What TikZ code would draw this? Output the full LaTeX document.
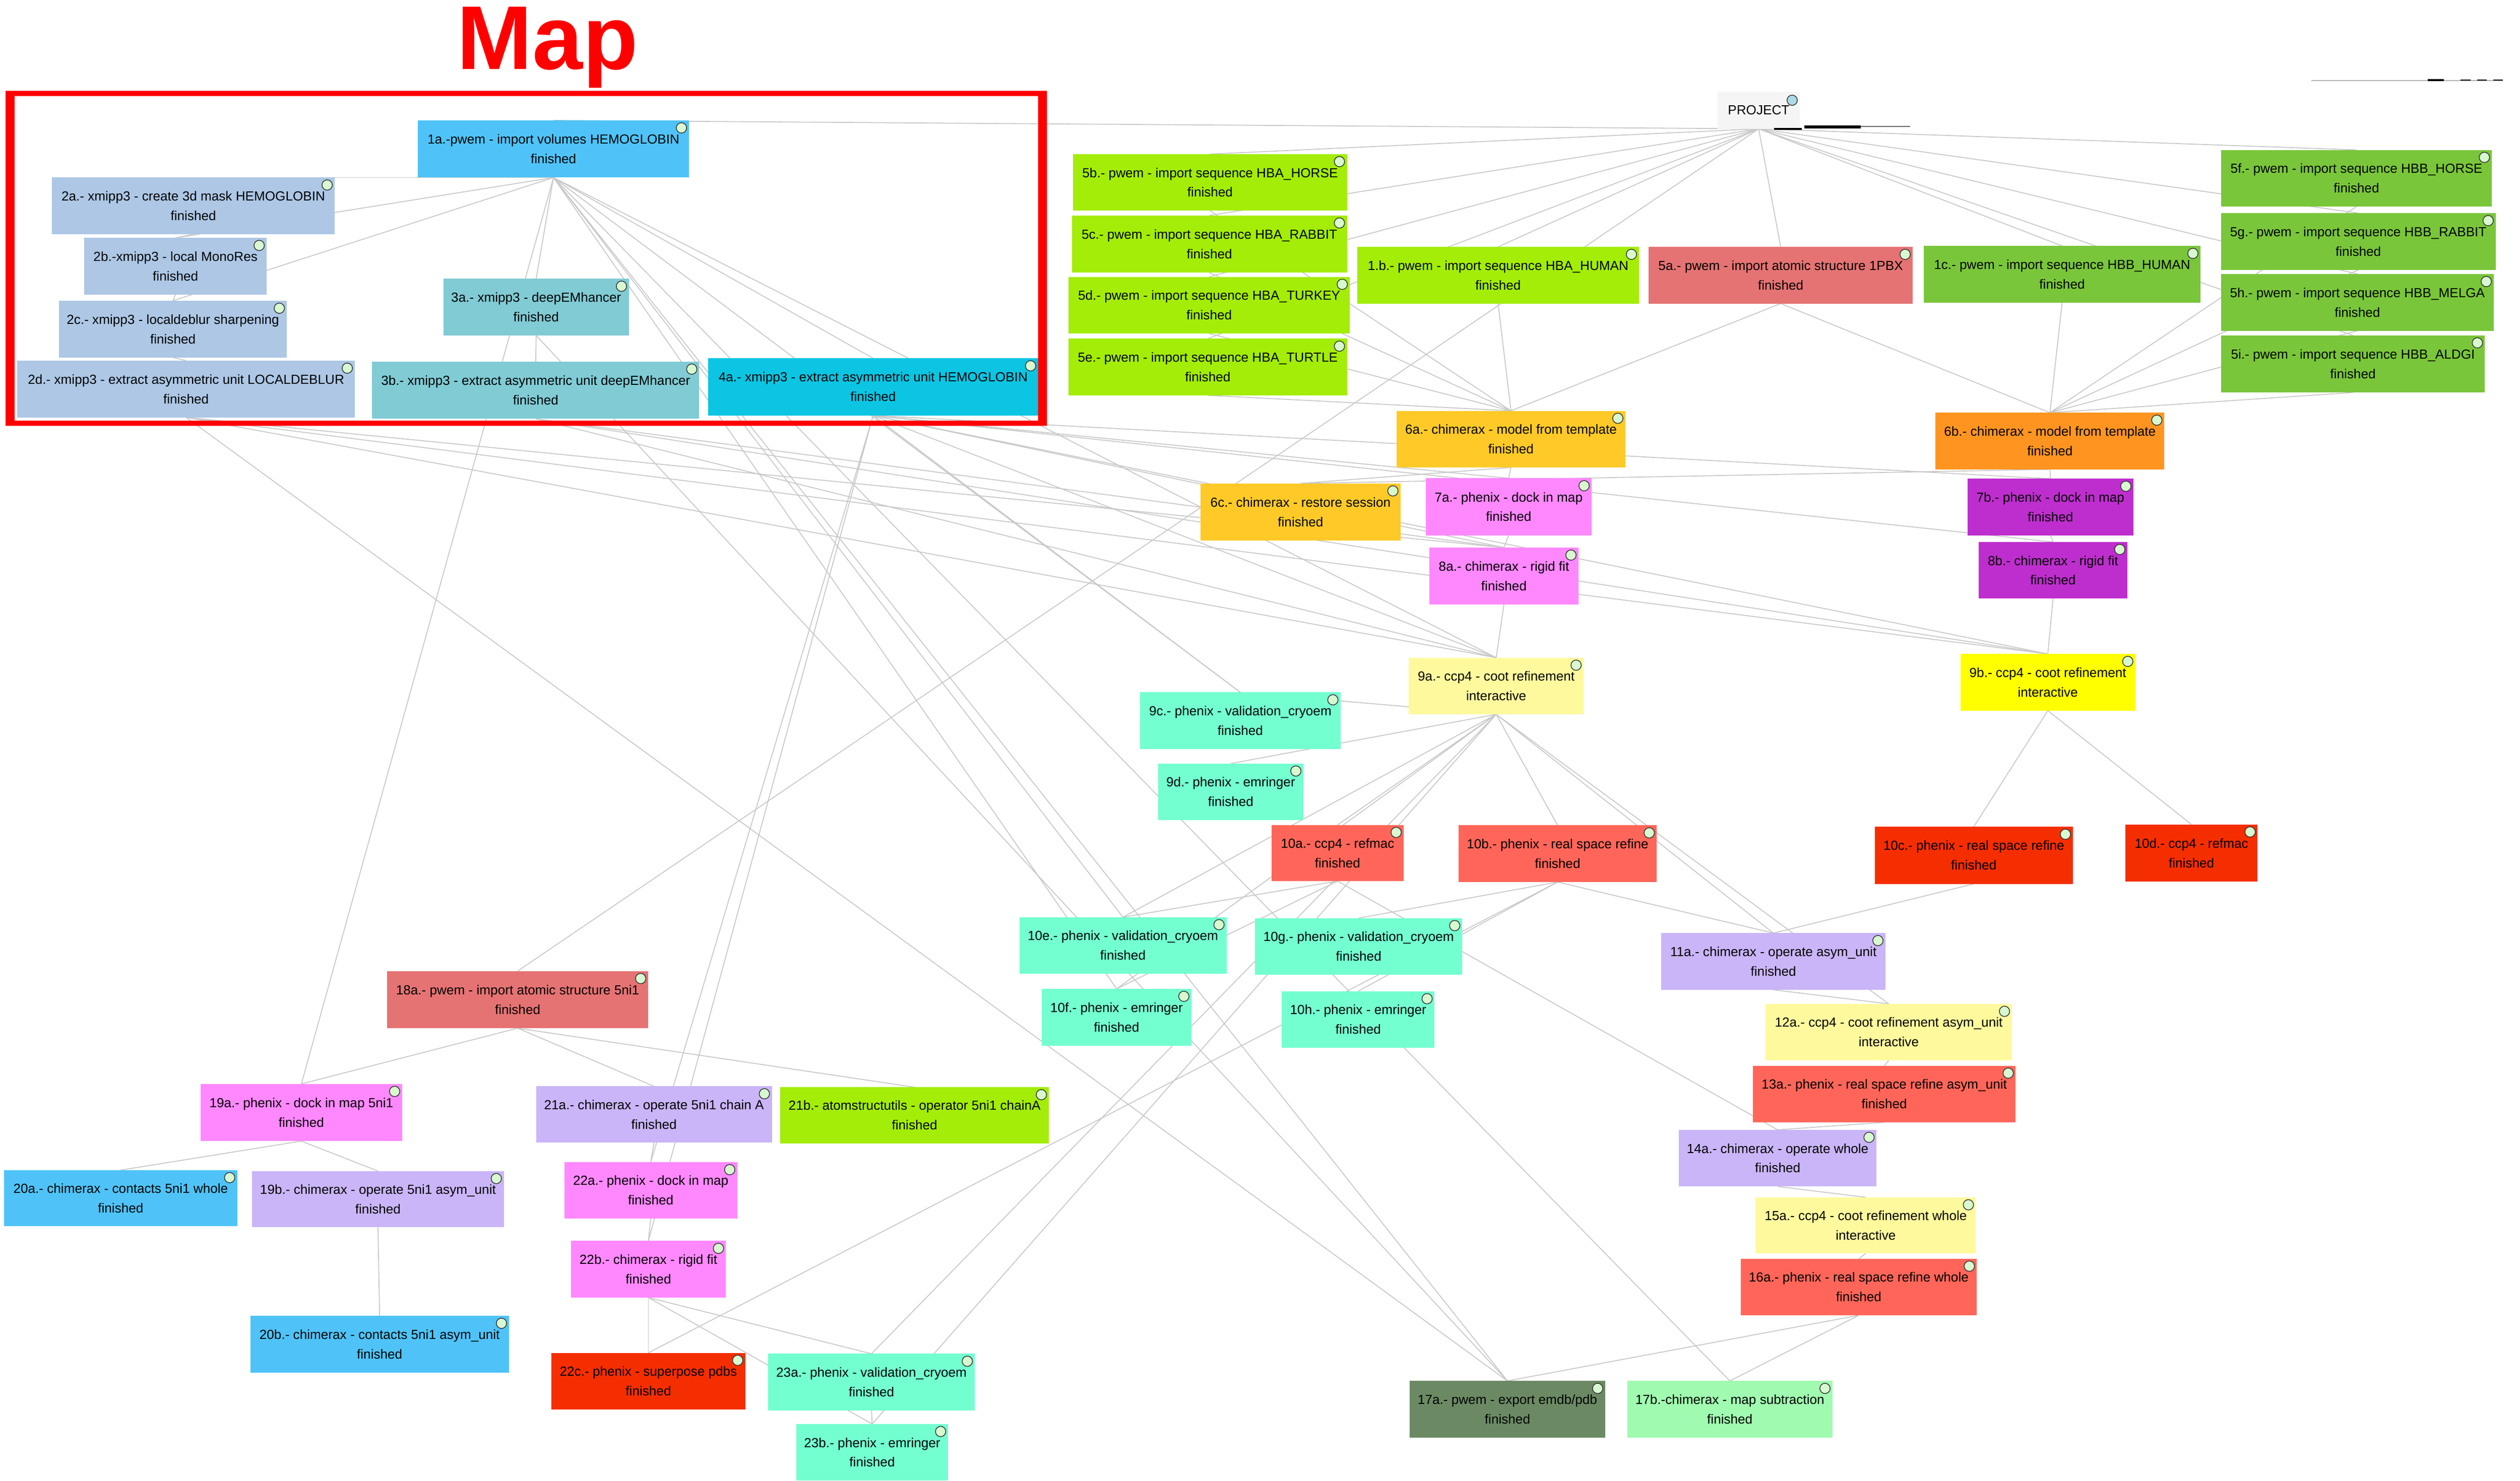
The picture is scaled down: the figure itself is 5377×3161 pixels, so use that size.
\documentclass[tikz,border=0pt]{standalone}
\usepackage{fontspec}
\setmainfont{Liberation Sans}
\usetikzlibrary{backgrounds,calc}
\definecolor{cSky}{HTML}{4FC3F7}
\definecolor{cSteel}{HTML}{ADC7E5}
\definecolor{cTeal}{HTML}{80CBD4}
\definecolor{cCyan}{HTML}{0BC5E3}
\definecolor{cLime}{HTML}{A3ED08}
\definecolor{cRose}{HTML}{E57373}
\definecolor{cGreen}{HTML}{7AC63A}
\definecolor{cGold}{HTML}{FFCA28}
\definecolor{cOrange}{HTML}{FF9520}
\definecolor{cPink}{HTML}{FF88FF}
\definecolor{cPurple}{HTML}{BE2ECE}
\definecolor{cPaleY}{HTML}{FFF99D}
\definecolor{cYellow}{HTML}{FFFF00}
\definecolor{cAqua}{HTML}{73FFD0}
\definecolor{cSalmon}{HTML}{FF6659}
\definecolor{cRed}{HTML}{F52E00}
\definecolor{cLav}{HTML}{C9B5F7}
\definecolor{cOlive}{HTML}{6B8A64}
\definecolor{cMint}{HTML}{A0FAB0}
\definecolor{cProj}{HTML}{F5F5F5}
\definecolor{cDot}{HTML}{D8F8D0}
\definecolor{cDotB}{HTML}{ADD8E6}
\definecolor{cEdge}{HTML}{C8C8C8}
\definecolor{cFrame}{HTML}{FF0000}
\tikzset{
  wfbox/.style={rectangle, inner sep=0pt, outer sep=0pt, align=center,
    font=\fontsize{8pt}{11.9pt}\selectfont, text=black},
  wfedge/.style={draw=cEdge, line width=0.55pt},
  statusdot/.style={fill=cDot, draw=black!80, line width=0.45pt},
  titletext/.style={font=\fontsize{55pt}{55pt}\selectfont\bfseries, text=cFrame, inner sep=0pt, anchor=base}
}
\newcommand\wf[8]{%
  \node[wfbox, fill=#6, minimum width={(#4-#2)*0.1mm}, minimum height={(#5-#3)*0.1mm}]
    (#1) at ({(#2+#4)/2},{(#3+#5)/2}) {#7\\#8};
  \path[statusdot] ($(#1.north east)+(-16,16)$) circle[radius=1.1mm];
}
\begin{document}
\begin{tikzpicture}[x=0.1mm, y=-0.1mm]
\useasboundingbox (0,0) rectangle (5377,3161);

% title
\node[titletext] (title) at (1168,148) {Map};

% project root
\node[wfbox, fill=cProj, minimum width=17.5mm, minimum height=7.9mm] (proj) at (3752.5,235.5) {PROJECT};
\path[statusdot, fill=cDotB] ($(proj.north east)+(-16,18)$) circle[radius=1.1mm];

% map branch
\wf{n1a}{892}{257}{1470}{379}{cSky}{1a.-pwem - import volumes HEMOGLOBIN}{finished}
\wf{n2a}{111}{379}{714}{500}{cSteel}{2a.- xmipp3 - create 3d mask HEMOGLOBIN}{finished}
\wf{n2b}{180}{508}{569}{629}{cSteel}{2b.-xmipp3 - local MonoRes}{finished}
\wf{n2c}{126}{642}{612}{763}{cSteel}{2c.- xmipp3 - localdeblur sharpening}{finished}
\wf{n2d}{37}{770}{757}{891}{cSteel}{2d.- xmipp3 - extract asymmetric unit LOCALDEBLUR}{finished}
\wf{n3a}{946}{595}{1342}{716}{cTeal}{3a.- xmipp3 - deepEMhancer}{finished}
\wf{n3b}{794}{772}{1492}{894}{cTeal}{3b.- xmipp3 - extract asymmetric unit deepEMhancer}{finished}
\wf{n4a}{1511}{765}{2215}{887}{cCyan}{4a.- xmipp3 - extract asymmetric unit HEMOGLOBIN}{finished}

% sequences and structures
\wf{n5b}{2290}{329}{2874}{450}{cLime}{5b.- pwem - import sequence HBA\_HORSE}{finished}
\wf{n5c}{2287}{460}{2874}{582}{cLime}{5c.- pwem - import sequence HBA\_RABBIT}{finished}
\wf{n5d}{2280}{591}{2880}{712}{cLime}{5d.- pwem - import sequence HBA\_TURKEY}{finished}
\wf{n5e}{2280}{723}{2874}{844}{cLime}{5e.- pwem - import sequence HBA\_TURTLE}{finished}
\wf{n1b}{2896}{527}{3497}{648}{cLime}{1.b.- pwem - import sequence HBA\_HUMAN}{finished}
\wf{n5a}{3518}{527}{4081}{648}{cRose}{5a.- pwem - import atomic structure 1PBX}{finished}
\wf{n1c}{4105}{525}{4695}{646}{cGreen}{1c.- pwem - import sequence HBB\_HUMAN}{finished}
\wf{n5f}{4739}{320}{5317}{441}{cGreen}{5f.- pwem - import sequence HBB\_HORSE}{finished}
\wf{n5g}{4739}{455}{5325}{576}{cGreen}{5g.- pwem - import sequence HBB\_RABBIT}{finished}
\wf{n5h}{4739}{585}{5321}{706}{cGreen}{5h.- pwem - import sequence HBB\_MELGA}{finished}
\wf{n5i}{4739}{716}{5302}{838}{cGreen}{5i.- pwem - import sequence HBB\_ALDGI}{finished}

% modelling
\wf{n6a}{2980}{877}{3468}{998}{cGold}{6a.- chimerax - model from template}{finished}
\wf{n6b}{4130}{881}{4618}{1002}{cOrange}{6b.- chimerax - model from template}{finished}
\wf{n6c}{2562}{1032}{2988}{1154}{cGold}{6c.- chimerax - restore session}{finished}
\wf{n7a}{3042}{1021}{3396}{1143}{cPink}{7a.- phenix - dock in map}{finished}
\wf{n8a}{3050}{1169}{3368}{1290}{cPink}{8a.- chimerax - rigid fit}{finished}
\wf{n7b}{4198}{1022}{4552}{1143}{cPurple}{7b.- phenix - dock in map}{finished}
\wf{n8b}{4222}{1157}{4539}{1278}{cPurple}{8b.- chimerax - rigid fit}{finished}
\wf{n9a}{3006}{1404}{3379}{1525}{cPaleY}{9a.- ccp4 - coot refinement}{interactive}
\wf{n9b}{4183}{1396}{4556}{1517}{cYellow}{9b.- ccp4 - coot refinement}{interactive}
\wf{n9c}{2433}{1478}{2860}{1599}{cAqua}{9c.- phenix - validation\_cryoem}{finished}
\wf{n9d}{2471}{1630}{2781}{1751}{cAqua}{9d.- phenix - emringer}{finished}
\wf{n10a}{2713}{1761}{2995}{1881}{cSalmon}{10a.- ccp4 - refmac}{finished}
\wf{n10b}{3112}{1762}{3535}{1883}{cSalmon}{10b.- phenix - real space refine}{finished}
\wf{n10c}{4000}{1765}{4423}{1887}{cRed}{10c.- phenix - real space refine}{finished}
\wf{n10d}{4535}{1760}{4817}{1882}{cRed}{10d.- ccp4 - refmac}{finished}
\wf{n10e}{2175}{1958}{2617}{2079}{cAqua}{10e.- phenix - validation\_cryoem}{finished}
\wf{n10g}{2678}{1960}{3120}{2081}{cAqua}{10g.- phenix - validation\_cryoem}{finished}
\wf{n10f}{2223}{2111}{2542}{2233}{cAqua}{10f.- phenix - emringer}{finished}
\wf{n10h}{2735}{2116}{3061}{2237}{cAqua}{10h.- phenix - emringer}{finished}
\wf{n11a}{3545}{1992}{4023}{2113}{cLav}{11a.- chimerax - operate asym\_unit}{finished}
\wf{n12a}{3767}{2143}{4293}{2264}{cPaleY}{12a.- ccp4 - coot refinement asym\_unit}{interactive}
\wf{n13a}{3740}{2275}{4301}{2396}{cSalmon}{13a.- phenix - real space refine asym\_unit}{finished}
\wf{n14a}{3582}{2412}{4004}{2533}{cLav}{14a.- chimerax - operate whole}{finished}
\wf{n15a}{3746}{2556}{4216}{2676}{cPaleY}{15a.- ccp4 - coot refinement whole}{interactive}
\wf{n16a}{3714}{2687}{4218}{2808}{cSalmon}{16a.- phenix - real space refine whole}{finished}
\wf{n17a}{3008}{2948}{3425}{3069}{cOlive}{17a.- pwem - export emdb/pdb}{finished}
\wf{n17b}{3472}{2948}{3910}{3069}{cMint}{17b.-chimerax - map subtraction}{finished}

% 5ni1 branch
\wf{n18a}{826}{2073}{1383}{2195}{cRose}{18a.- pwem - import atomic structure 5ni1}{finished}
\wf{n19a}{428}{2314}{858}{2436}{cPink}{19a.- phenix - dock in map 5ni1}{finished}
\wf{n21a}{1144}{2319}{1647}{2439}{cLav}{21a.- chimerax - operate 5ni1 chain A}{finished}
\wf{n21b}{1665}{2321}{2238}{2441}{cLime}{21b.- atomstructutils - operator 5ni1 chainA}{finished}
\wf{n20a}{9}{2498}{506}{2618}{cSky}{20a.- chimerax - contacts 5ni1 whole}{finished}
\wf{n19b}{538}{2500}{1075}{2620}{cLav}{19b.- chimerax - operate 5ni1 asym\_unit}{finished}
\wf{n22a}{1204}{2481}{1573}{2601}{cPink}{22a.- phenix - dock in map}{finished}
\wf{n22b}{1218}{2649}{1549}{2770}{cPink}{22b.- chimerax - rigid fit}{finished}
\wf{n20b}{534}{2809}{1086}{2930}{cSky}{20b.- chimerax - contacts 5ni1 asym\_unit}{finished}
\wf{n22c}{1177}{2888}{1590}{3009}{cRed}{22c.- phenix - superpose pdbs}{finished}
\wf{n23a}{1639}{2890}{2080}{3011}{cAqua}{23a.- phenix - validation\_cryoem}{finished}
\wf{n23b}{1699}{3040}{2023}{3161}{cAqua}{23b.- phenix - emringer}{finished}

% connectors behind the boxes
\begin{pgfonlayer}{background}
\foreach \a/\b in {
  proj/n1a, proj/n5b, proj/n5c, proj/n5d, proj/n5e, proj/n1b, proj/n5a, proj/n1c,
  proj/n5f, proj/n5g, proj/n5h, proj/n5i, proj/n18a,
  n1a/n2a, n1a/n2b, n1a/n2c, n1a/n3a, n1a/n4a, n1a/n19a, n1a/n9a, n1a/n9c,
  n1a/n10e, n1a/n10f, n1a/n17a, n1a/n17b,
  n2a/n2b, n2b/n2c, n2c/n2d, n3a/n3b, n3a/n17a,
  n2d/n8a, n2d/n9a, n2d/n9b, n2d/n17a,
  n3b/n8a, n3b/n9a, n3b/n9b,
  n4a/n7a, n4a/n7b, n4a/n8a, n4a/n8b, n4a/n9a, n4a/n9b, n4a/n9c, n4a/n22a, n4a/n22b,
  n5b/n6a, n5c/n6a, n5d/n6a, n5e/n6a, n1b/n6a, n5a/n6a,
  n1c/n6b, n5a/n6b, n5f/n6b, n5g/n6b, n5h/n6b, n5i/n6b,
  n6a/n6c, n6a/n7a, n6b/n6c, n6b/n7b,
  n7a/n8a, n7b/n8b, n8a/n9a, n8b/n9b,
  n9a/n9c, n9a/n9d, n9a/n10a, n9a/n10b, n9a/n10e, n9a/n10f, n9a/n11a, n9a/n12a,
  n9a/n23a, n9a/n23b,
  n9b/n10c, n9b/n10d,
  n10a/n10e, n10a/n10f, n10a/n14a,
  n10b/n10g, n10b/n10h, n10b/n11a, n10b/n22c, n10c/n11a,
  n11a/n12a, n12a/n13a, n13a/n14a, n14a/n15a, n15a/n16a, n16a/n17a, n16a/n17b,
  n18a/n19a, n18a/n21a, n18a/n21b,
  n19a/n20a, n19a/n19b, n19b/n20b,
  n21a/n22a, n22a/n22b, n22b/n22c, n22b/n23a, n22b/n23b, n23a/n23b}
  \draw[wfedge] (\a.south) -- (\b.north);
\end{pgfonlayer}

% red frame round the map part
\fill[cFrame, even odd rule] (12,194) rectangle (2234,909) (31,205) rectangle (2215,898);

% small marks near the root
\draw[black, line width=0.45mm] (3785,275) -- (3845,275);
\draw[black, line width=0.6mm] (3850,271) -- (3970,271);
\draw[black!60, line width=0.2mm] (3970,270) -- (4076,270);
\draw[black!30, line width=0.2mm] (4932,172) -- (5340,172);
\draw[black, line width=0.35mm] (5180,171) -- (5215,171);
\draw[black, line width=0.25mm, dash pattern=on 6pt off 4pt] (5250,171) -- (5340,171);
\end{tikzpicture}
\end{document}
